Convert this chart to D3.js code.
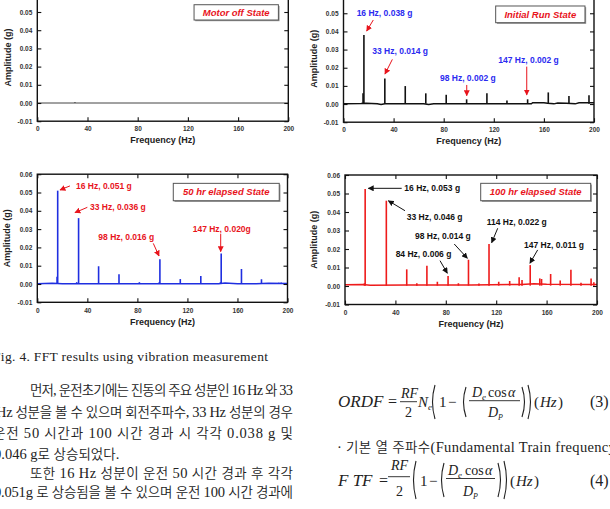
<!DOCTYPE html>
<html>
<head>
<meta charset="utf-8">
<script src="https://cdn.jsdelivr.net/npm/d3@7"></script>
<style>
  body { margin: 0; background: #fff; }
  svg { display: block; }
</style>
</head>
<body>
<svg id="page" width="610" height="509"></svg>
<script>
// shared ticks
var freqTicks = [0, 40, 80, 120, 160, 200];
var ampTicks = [-0.01, 0, 0.01, 0.02, 0.03, 0.04, 0.05, 0.06];

// spectral lines, [Hz, g]
var offPeaks = [[30, 0.0005]];
var initPeaks = [[15.6, 0.006], [16.3, 0.038], [33, 0.014], [49.3, 0.0099], [65.7, 0.0059],
  [82, 0.0051], [98.3, 0.0026], [114.5, 0.0059], [130.5, 0.002], [147, 0.0026],
  [163.5, 0.0064], [180, 0.0044], [196, 0.0048]];
var hr50Peaks = [[15.8, 0.004], [16.3, 0.051], [31.5, 0.001], [33, 0.036], [49, 0.0097],
  [65.3, 0.0053], [81.6, 0.001], [97.5, 0.001], [98, 0.0135], [114.3, 0.0027],
  [130.7, 0.0044], [146.4, 0.001], [147, 0.0166], [163.2, 0.0082], [179.2, 0.0026],
  [193, 0.0007], [195, 0.0008]];
var hr100Peaks = [[15.4, 0.0015], [16, 0.0524], [32.8, 0.0461], [49, 0.009], [57, 0.0015],
  [65, 0.011], [73.3, 0.0023], [81.8, 0.0054], [90, 0.0015], [98, 0.0142],
  [106.3, 0.0014], [114.3, 0.0227], [122, 0.0023], [130.7, 0.0027], [138.2, 0.0047],
  [140.5, 0.0032], [147, 0.0113], [154.6, 0.0041], [156, 0.0038], [163.2, 0.0065],
  [170.8, 0.003], [179.3, 0.0088], [187.3, 0.0018], [195.3, 0.0041], [197.5, 0.002]];

// noise floor of each trace, [Hz, g]
var offBase = [[0, 0], [200, 0]];
var initBase = [[0, 0.0002], [14, 0.0003], [18, 0.0004], [27, 0.0001], [30, -0.0003], [33, 0.0002],
  [64, 0.0002], [68, -0.0002], [72, 0.0001], [150, 0.0001], [151, 0.0007], [160, 0.0007],
  [163, 0.0004], [168, 0.0001], [171, 0.0006], [178, 0.0004], [185, 0.0001], [188, 0.0007], [200, 0.0007]];
var hr50Base = [[0, 0.0001], [12, 0.0004], [20, 0.0002], [60, 0.0001], [145, 0.0002], [150, 0.0005],
  [160, 0.0002], [175, 0.0001], [185, 0.0004], [200, 0.0003]];
var hr100Base = [[0, 0.0007], [14, 0.0008], [20, 0.0004], [50, 0.0006], [100, 0.0006], [140, 0.0008],
  [150, 0.0012], [160, 0.0009], [200, 0.0008]];

// call-outs: label, text anchor and arrow tail/head in [Hz, g]
var initNotes = [
  {text: "16 Hz, 0.038 g", at: [10.5, 0.0503], from: [23.8, 0.0463], to: [18.5, 0.0402]},
  {text: "33 Hz, 0.014 g", at: [23, 0.0294], from: [39, 0.0246], to: [33.1, 0.0165]},
  {text: "98 Hz, 0.002 g", at: [77, 0.0143], from: [98.4, 0.0105], to: [98.4, 0.0046]},
  {text: "147  Hz, 0.002 g", at: [123.6, 0.0242], from: [146.3, 0.0206], to: [146.3, 0.005]}
];
var hr50Notes = [
  {text: "16 Hz, 0.051 g", at: [30.9, 0.0536], from: [26.1, 0.0536], to: [18.1, 0.0514]},
  {text: "33 Hz, 0.036 g", at: [42.1, 0.0422], from: [40, 0.0419], to: [30.1, 0.039]},
  {text: "98 Hz, 0.016 g", at: [48.8, 0.0255], from: [92.7, 0.0222], to: [97.3, 0.0153]},
  {text: "147  Hz, 0.020g", at: [124.2, 0.0299], from: [146.6, 0.0273], to: [146.6, 0.0177]}
];
var hr100Notes = [
  {text: "16 Hz, 0.053 g", at: [47.1, 0.0528], from: [45, 0.0528], to: [18.5, 0.0528]},
  {text: "33 Hz, 0.046 g", at: [49, 0.0375], from: [47.6, 0.0407], to: [34.4, 0.0461]},
  {text: "98 Hz, 0.014 g", at: [55.6, 0.0272], from: [86.7, 0.0227], to: [97.1, 0.015]},
  {text: "84 Hz, 0.006 g", at: [40.2, 0.0173], from: [75.4, 0.0137], to: [81.2, 0.0069]},
  {text: "114 Hz, 0.022 g", at: [112.5, 0.0344], from: [121.2, 0.0312], to: [116.4, 0.0234]},
  {text: "147 Hz, 0.011 g", at: [142.1, 0.0222], from: [152.9, 0.0195], to: [146.8, 0.0123]}
];

var svg = d3.select("#page");
var sans = "'Liberation Sans', Arial, sans-serif";
var serif = "'Liberation Serif', 'Times New Roman', serif";

var defs = svg.append("defs");
function marker(id, color) {
  defs.append("marker")
      .attr("id", id)
      .attr("viewBox", "0 0 10 10")
      .attr("refX", 9).attr("refY", 5)
      .attr("markerWidth", 6).attr("markerHeight", 6)
      .attr("markerUnits", "userSpaceOnUse")
      .attr("orient", "auto")
    .append("path")
      .attr("d", "M0,0L10,5L0,10z")
      .attr("fill", color);
}
marker("head-red", "#e8141c");
marker("head-black", "#111");

var panels = [
  {left: 37.3, right: 288.3, top: -6.2, bottom: 121.2, tickY: 8.5, titleY: 22, ylabX: 8,
   color: "#444", width: 1, base: offBase, peaks: offPeaks, notes: [],
   legend: {label: "Motor off State", f: [124.9, 192.1], a: [0.054, 0.0456]}},
  {left: 343.5, right: 594, top: -4.9, bottom: 122.2, tickY: 8.5, titleY: 21.5, ylabX: 314,
   color: "#111", width: 1.5, base: initBase, peaks: initPeaks, notes: initNotes,
   noteColor: "#2b2bf0", arrow: "head-red", arrowColor: "#e8141c",
   legend: {label: "Initial Run State", f: [121.5, 192.8], a: [0.054, 0.0448]}},
  {left: 37.3, right: 287.5, top: 174.2, bottom: 302.3, tickY: 9.5, titleY: 23, ylabX: 7,
   color: "#1f2fe0", width: 1.5, base: hr50Base, peaks: hr50Peaks, notes: hr50Notes,
   noteColor: "#e8141c", arrow: "head-red", arrowColor: "#e8141c",
   legend: {label: "50 hr elapsed State", f: [108.7, 193.4], a: [0.055, 0.0455]}},
  {left: 345, right: 597, top: 175, bottom: 304.5, tickY: 9, titleY: 22, ylabX: 314,
   color: "#ee1b1b", width: 1.5, base: hr100Base, peaks: hr100Peaks, notes: hr100Notes,
   noteColor: "#111", arrow: "head-black", arrowColor: "#111",
   legend: {label: "100 hr elapsed State", f: [107.7, 195], a: [0.0555, 0.0461]}}
];

panels.forEach(function(p) {
  var x = d3.scaleLinear().domain([0, 200]).range([p.left, p.right]);
  var y = d3.scaleLinear().domain([-0.01, 0.06]).range([p.bottom, p.top]);
  var g = svg.append("g");

  // trace
  g.append("path")
      .datum(p.base)
      .attr("d", d3.line().x(function(d) { return x(d[0]); }).y(function(d) { return y(d[1]); }))
      .attr("fill", "none")
      .attr("stroke", p.color)
      .attr("stroke-width", p.width);
  g.selectAll("line.stem")
      .data(p.peaks)
    .enter().append("line")
      .attr("class", "stem")
      .attr("x1", function(d) { return x(d[0]); })
      .attr("x2", function(d) { return x(d[0]); })
      .attr("y1", y(0.0002))
      .attr("y2", function(d) { return y(d[1]); })
      .attr("stroke", p.color)
      .attr("stroke-width", 1.6);

  // axes, ticks point inward on every side
  var bottom = g.append("g")
      .attr("transform", "translate(0," + p.bottom + ")")
      .call(d3.axisBottom(x).tickValues(freqTicks).tickSizeInner(-4).tickSizeOuter(0).tickPadding(p.tickY - 3));
  var left = g.append("g")
      .attr("transform", "translate(" + p.left + ",0)")
      .call(d3.axisLeft(y).tickValues(ampTicks).tickSizeInner(-4).tickSizeOuter(0).tickPadding(5)
        .tickFormat(function(d) { return d.toFixed(2); }));
  g.append("g")
      .attr("transform", "translate(0," + p.top + ")")
      .call(d3.axisTop(x).tickValues(freqTicks).tickSizeInner(-4).tickSizeOuter(0).tickFormat(""));
  g.append("g")
      .attr("transform", "translate(" + p.right + ",0)")
      .call(d3.axisRight(y).tickValues(ampTicks).tickSizeInner(-4).tickSizeOuter(0).tickFormat(""));
  g.selectAll(".domain").remove();
  g.selectAll(".tick line").attr("stroke", "#111").attr("stroke-width", 1.1);
  [bottom, left].forEach(function(a) {
    a.attr("font-family", sans).attr("font-size", 6.5).attr("font-weight", "bold");
    a.selectAll("text").attr("fill", "#333");
  });

  g.append("rect")
      .attr("x", p.left).attr("y", p.top)
      .attr("width", p.right - p.left).attr("height", p.bottom - p.top)
      .attr("fill", "none").attr("stroke", "#111").attr("stroke-width", 1.4);

  // titles
  g.append("text")
      .attr("x", (p.left + p.right) / 2).attr("y", p.bottom + p.titleY)
      .attr("text-anchor", "middle")
      .attr("font-family", sans).attr("font-size", 9).attr("font-weight", "bold")
      .attr("fill", "#222")
      .text("Frequency (Hz)");
  g.append("text")
      .attr("transform", "translate(" + p.ylabX + "," + (p.top + p.bottom) / 2 + ") rotate(-90)")
      .attr("text-anchor", "middle").attr("dy", "0.35em")
      .attr("font-family", sans).attr("font-size", 9).attr("font-weight", "bold")
      .attr("fill", "#222")
      .text("Amplitude (g)");

  // state box
  var L = p.legend;
  g.append("rect")
      .attr("x", x(L.f[0]) + 1.2).attr("y", y(L.a[0]) + 1.2)
      .attr("width", x(L.f[1]) - x(L.f[0])).attr("height", y(L.a[1]) - y(L.a[0]))
      .attr("fill", "#999");
  g.append("rect")
      .attr("x", x(L.f[0])).attr("y", y(L.a[0]))
      .attr("width", x(L.f[1]) - x(L.f[0])).attr("height", y(L.a[1]) - y(L.a[0]))
      .attr("fill", "#fff").attr("stroke", "#555").attr("stroke-width", 1);
  g.append("text")
      .attr("x", (x(L.f[0]) + x(L.f[1])) / 2).attr("y", (y(L.a[0]) + y(L.a[1])) / 2)
      .attr("dy", "0.35em").attr("text-anchor", "middle")
      .attr("font-family", sans).attr("font-size", 9.5)
      .attr("font-weight", "bold").attr("font-style", "italic")
      .attr("fill", "#e8141c")
      .text(L.label);

  // call-outs
  g.selectAll("line.arrow")
      .data(p.notes)
    .enter().append("line")
      .attr("class", "arrow")
      .attr("x1", function(d) { return x(d.from[0]); })
      .attr("y1", function(d) { return y(d.from[1]); })
      .attr("x2", function(d) { return x(d.to[0]); })
      .attr("y2", function(d) { return y(d.to[1]); })
      .attr("stroke", p.arrowColor).attr("stroke-width", 1)
      .attr("marker-end", "url(#" + p.arrow + ")");
  g.selectAll("text.note")
      .data(p.notes)
    .enter().append("text")
      .attr("class", "note")
      .attr("x", function(d) { return x(d.at[0]); })
      .attr("y", function(d) { return y(d.at[1]); })
      .attr("dy", "0.35em")
      .attr("font-family", sans).attr("font-size", 8.5).attr("font-weight", "bold")
      .attr("fill", p.noteColor)
      .text(function(d) { return d.text; });
});

// ---- page text below the figure ----
// hangul runs go to the CJK face, the rest stays in the serif
function mixed(sel, str) {
  str.split(/([\uAC00-\uD7A3]+)/).forEach(function(run) {
    if (!run) return;
    var k = /[\uAC00-\uD7A3]/.test(run);
    sel.append("tspan")
        .attr("font-family", k ? "'Noto Sans CJK KR', sans-serif" : serif)
        .attr("font-size", k ? 13.5 : 14.5)
        .attr("font-weight", k ? 350 : 400)
        .text(run);
  });
}

svg.append("text")
    .attr("x", -7).attr("y", 361)
    .attr("font-family", serif).attr("font-size", 13.5).attr("fill", "#222")
    .attr("textLength", 275).attr("lengthAdjust", "spacing")
    .text("Fig. 4. FFT results using vibration measurement");

var lines = [
  {t: "먼저, 운전초기에는 진동의 주요 성분인 16 Hz 와 33", x: 30, y: 395, w: 263},
  {t: "Hz 성분을 볼 수 있으며 회전주파수, 33 Hz 성분의 경우", x: -4, y: 416.5, w: 297},
  {t: "운전 50 시간과 100 시간 경과 시 각각 0.038 g 및", x: -7, y: 437.5, w: 300},
  {t: "0.046 g로 상승되었다.", x: -6, y: 458.5, w: 0},
  {t: "또한 16 Hz 성분이 운전 50 시간 경과 후 각각", x: 30, y: 478, w: 263},
  {t: "0.051g 로 상승됨을 볼 수 있으며 운전 100 시간 경과에", x: -6, y: 496.5, w: 299}
];
lines.forEach(function(l) {
  var t = svg.append("text")
      .attr("x", l.x).attr("y", l.y)
      .attr("fill", "#222");
  mixed(t, l.t);
  if (l.w) t.attr("textLength", l.w).attr("lengthAdjust", "spacing");
});

var bullet = svg.append("text")
    .attr("x", 337).attr("y", 451.5)
    .attr("fill", "#222")
    .attr("textLength", 284).attr("lengthAdjust", "spacing");
mixed(bullet, "· 기본 열 주파수(Fundamental Train frequency)");

// equations
function eq(x, y, s, opt) {
  opt = opt || {};
  return svg.append("text")
      .attr("x", x).attr("y", y)
      .attr("font-family", serif)
      .attr("font-size", opt.size || 16)
      .attr("font-style", opt.italic ? "italic" : "normal")
      .attr("fill", "#222")
      .text(s);
}
function paren(x, y0, y1, open) {
  var mid = (y0 + y1) / 2, d = open ? -5 : 5;
  svg.append("path")
      .attr("d", "M" + x + "," + y0 + "Q" + (x + d) + "," + mid + " " + x + "," + y1)
      .attr("fill", "none").attr("stroke", "#222").attr("stroke-width", 1.1);
}
function bar(x0, x1, y) {
  svg.append("line").attr("x1", x0).attr("x2", x1).attr("y1", y).attr("y2", y)
      .attr("stroke", "#222").attr("stroke-width", 0.9);
}

// ORDF (3)
eq(338, 407, "ORDF", {italic: true, size: 17});
eq(388, 407, "=", {size: 16});
eq(401, 397.5, "RF", {italic: true, size: 14});
bar(400, 417, 401.7);
eq(405, 416.5, "2", {size: 14});
eq(418, 407, "N", {italic: true, size: 15});
eq(428, 410, "e", {italic: true, size: 9});
paren(435, 385, 419, true);
eq(439, 407, "1", {size: 15});
eq(448, 407, "−", {size: 15});
paren(466, 387, 417, true);
eq(472, 396.5, "D", {italic: true, size: 14});
eq(482, 399.5, "e", {italic: true, size: 9});
eq(488, 396.5, "cos", {size: 14});
eq(508, 396.5, "α", {italic: true, size: 14});
bar(469, 520, 400.7);
eq(488, 416.5, "D", {italic: true, size: 14});
eq(498, 419.5, "P", {italic: true, size: 8});
paren(522, 387, 417, false);
paren(528, 385, 419, false);
eq(534, 407, "(", {size: 15});
eq(540, 407, "Hz", {italic: true, size: 15});
eq(558, 407, ")", {size: 15});
eq(590, 407, "(3)");

// FTF (4)
eq(338, 486, "F TF", {italic: true, size: 17});
eq(379, 486, "=", {size: 16});
eq(391, 469.5, "RF", {italic: true, size: 14});
bar(388, 410, 476.7);
eq(396, 495.5, "2", {size: 14});
paren(416, 461, 499, true);
eq(420, 486, "1", {size: 15});
eq(429, 486, "−", {size: 15});
paren(444, 463, 497, true);
eq(448, 474.5, "D", {italic: true, size: 14});
eq(458, 477.5, "e", {italic: true, size: 9});
eq(465, 474.5, "cos", {size: 14});
eq(485, 474.5, "α", {italic: true, size: 14});
bar(446, 495, 478.5);
eq(463, 495.5, "D", {italic: true, size: 14});
eq(473, 498.5, "P", {italic: true, size: 8});
paren(498, 463, 497, false);
paren(504, 461, 499, false);
eq(510, 486, "(", {size: 15});
eq(516, 486, "Hz", {italic: true, size: 15});
eq(534, 486, ")", {size: 15});
eq(590, 486, "(4)");
</script>
</body>
</html>
